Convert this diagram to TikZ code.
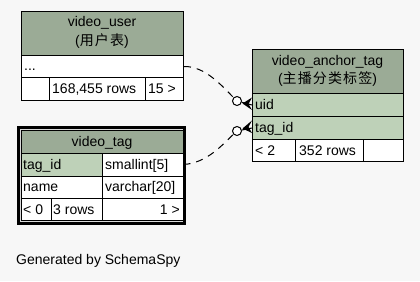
\documentclass[tikz,border=0pt]{standalone}
\usepackage{fontspec}
\setmainfont{Liberation Sans}
\newfontfamily\cjkfont[LetterSpace=8]{Noto Sans CJK SC}
\begin{document}
\begin{tikzpicture}[x=1pt,y=-1pt,
  every node/.style={font=\fontsize{14}{16}\selectfont},
  cell/.style={draw=black, line width=1pt, rectangle, anchor=north west, inner sep=0pt},
  hdr/.style={cell, fill=hdrgreen},
  pk/.style={cell, fill=pkgreen},
  body/.style={cell, fill=white},
  txt/.style={inner sep=0pt, anchor=base west, text=black},
  rel/.style={line width=1pt, dash pattern=on 7pt off 6pt},
  ring/.style={circle, draw=black, line width=1pt, fill=white, minimum size=9pt, inner sep=0pt}
]
\definecolor{bg}{HTML}{F7F7F7}
\definecolor{hdrgreen}{HTML}{9BAB96}
\definecolor{pkgreen}{HTML}{BED1B8}
\definecolor{gapgray}{HTML}{D9D9D9}
\path[use as bounding box, fill=bg] (0,0) rectangle (420,281);

% ---- video_user ----
\node[hdr, minimum width=162pt, minimum height=44pt] (uhead) at (21,11) {};
\node[txt, anchor=base] (uname) at (102,27) {video\_user};
\node[txt, anchor=base] (ucmt) at (102,45) {(\cjkfont 用户表\normalfont)};
\node[body, minimum width=162pt, minimum height=22pt] (urow) at (21,55) {};
\node[txt] (udots) at (24,70) {...};
\node[body, minimum width=28pt, minimum height=23pt] (uf1) at (21,77) {};
\node[body, minimum width=96pt, minimum height=23pt] (uf2) at (49,77) {};
\node[body, minimum width=38pt, minimum height=23pt] (uf3) at (145,77) {};
\node[txt] (urows) at (52,93) {168,455 rows};
\node[txt] (uchild) at (148,93) {15 >};

% ---- video_tag (outlined twice) ----
\node[draw=black, line width=3pt, fill=gapgray, rectangle, anchor=north west, inner sep=0pt,
      minimum width=166pt, minimum height=96pt] (tframe) at (16.5,125.5) {};
\node[hdr, minimum width=162pt, minimum height=23pt] (thead) at (20.5,129.5) {};
\node[txt, anchor=base] (tname) at (102,146) {video\_tag};
\node[pk, minimum width=81pt, minimum height=23pt] (tc1) at (20.5,152.5) {};
\node[body, minimum width=81pt, minimum height=23pt] (tt1) at (101.5,152.5) {};
\node[txt] (tc1t) at (23,169) {tag\_id};
\node[txt] (tt1t) at (105,169) {smallint[5]};
\node[body, minimum width=81pt, minimum height=22pt] (tc2) at (20.5,175.5) {};
\node[body, minimum width=81pt, minimum height=22pt] (tt2) at (101.5,175.5) {};
\node[txt] (tc2t) at (23,191) {name};
\node[txt] (tt2t) at (105,191) {varchar[20]};
\node[body, minimum width=30pt, minimum height=22pt] (tf1) at (20.5,197.5) {};
\node[body, minimum width=51pt, minimum height=22pt] (tf2) at (50.5,197.5) {};
\node[body, minimum width=81pt, minimum height=22pt] (tf3) at (101.5,197.5) {};
\node[txt] (tf1t) at (23,214) {< 0};
\node[txt] (tf2t) at (53,214) {3 rows};
\node[txt, anchor=base east] (tf3t) at (180,214) {1 >};

% ---- video_anchor_tag ----
\node[hdr, minimum width=151pt, minimum height=44pt] (ahead) at (252,49) {};
\node[txt, anchor=base] (aname) at (327.5,65) {video\_anchor\_tag};
\node[txt, anchor=base] (acmt) at (327.5,83) {(\cjkfont 主播分类标签\normalfont)};
\node[pk, minimum width=151pt, minimum height=23pt] (auid) at (252,93) {};
\node[txt] (auidt) at (255,109) {uid};
\node[pk, minimum width=151pt, minimum height=23pt] (atag) at (252,116) {};
\node[txt] (atagt) at (255,132) {tag\_id};
\node[body, minimum width=43pt, minimum height=22pt] (af1) at (252,139) {};
\node[body, minimum width=68pt, minimum height=22pt] (af2) at (295,139) {};
\node[body, minimum width=40pt, minimum height=22pt] (af3) at (363,139) {};
\node[txt] (af1t) at (255,155) {< 2};
\node[txt] (af2t) at (299,155) {352 rows};

% ---- relationships: zero-or-many ends ----
\node[ring] (o1) at (237,101) {};
\node[ring] (o2) at (237,131) {};
\draw[rel] (urow.east) .. controls (205,66) and (222,86) .. (o1);
\draw[rel] (tt1.east) .. controls (207,163) and (222,145) .. (o2);
% crow's feet
\draw[line width=1pt] (o1) -- (auid.west);
\fill (242.5,103.5) -- (252,97.5) -- (248.5,104) -- (252,110) -- cycle;
\draw[line width=1pt] (o2) -- (atag.west);
\fill (242.5,128.5) -- (252,120.5) -- (248.5,127) -- (252,133) -- cycle;

% ---- footer ----
\node[txt] (credit) at (16,264) {Generated by SchemaSpy};
\end{tikzpicture}
\end{document}
